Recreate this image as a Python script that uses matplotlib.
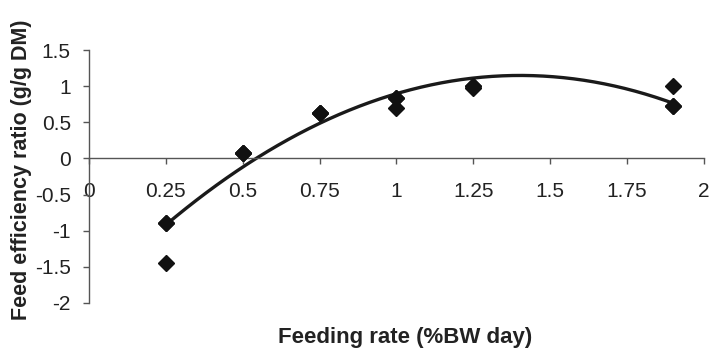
import numpy as np
import matplotlib
matplotlib.use("Agg")
import matplotlib.pyplot as plt

plt.rcParams['font.family'] = ['Liberation Sans', 'DejaVu Sans']

# Observed data (three replicates per feeding level; some markers overlap)
feeding_rate = [0.25, 0.25, 0.25, 0.5, 0.5, 0.5, 0.75, 0.75, 0.75,
                1.0, 1.0, 1.0, 1.25, 1.25, 1.25, 1.9, 1.9, 1.9]
feed_eff = [-0.9, -0.9, -1.45, 0.08, 0.08, 0.08, 0.63, 0.63, 0.63,
            0.83, 0.83, 0.70, 0.97, 1.0, 1.0, 1.0, 0.72, 0.72]

x_ticks = [0, 0.25, 0.5, 0.75, 1, 1.25, 1.5, 1.75, 2]
x_tick_labels = ['0', '0.25', '0.5', '0.75', '1', '1.25', '1.5', '1.75', '2']
y_ticks = [-2, -1.5, -1, -0.5, 0, 0.5, 1, 1.5]
y_tick_labels = ['-2', '-1.5', '-1', '-0.5', '0', '0.5', '1', '1.5']

fig = plt.figure(figsize=(7.11, 3.55), dpi=100)
ax = fig.add_axes([0.125, 0.1465, 0.865, 0.7125])

# quadratic trend line fitted to data
coef = np.polyfit(feeding_rate, feed_eff, 2)
xs = np.linspace(min(feeding_rate), max(feeding_rate), 200)
ax.plot(xs, np.polyval(coef, xs), color='#1a1a1a', lw=2.4, zorder=2)

ax.plot(feeding_rate, feed_eff, linestyle='none', marker='D', markersize=8,
        color='#111111', zorder=3)

ax.set_xlim(0, 2)
ax.set_ylim(-2, 1.5)
ax.set_xticks(x_ticks)
ax.set_xticklabels(x_tick_labels)
ax.set_yticks(y_ticks)
ax.set_yticklabels(y_tick_labels)

for s in ['top', 'right']:
    ax.spines[s].set_visible(False)
ax.spines['bottom'].set_position(('data', 0))
for s in ['left', 'bottom']:
    ax.spines[s].set_color('#555555')
    ax.spines[s].set_linewidth(1.0)

ax.tick_params(axis='both', direction='out', length=4, width=1, color='#555555',
               labelsize=15, labelcolor='#222222')
ax.tick_params(axis='x', pad=13)
ax.tick_params(axis='y', pad=9)

ax.set_ylabel('Feed efficiency ratio (g/g DM)', fontsize=15.5, fontweight='bold',
              color='#222222')
ax.yaxis.set_label_coords(-0.092, 0.525)
fig.text(0.57, 0.02, 'Feeding rate (%BW day)', fontsize=16, fontweight='bold',
         color='#222222', ha='center', va='bottom')

fig.savefig('out.png', dpi=100)
